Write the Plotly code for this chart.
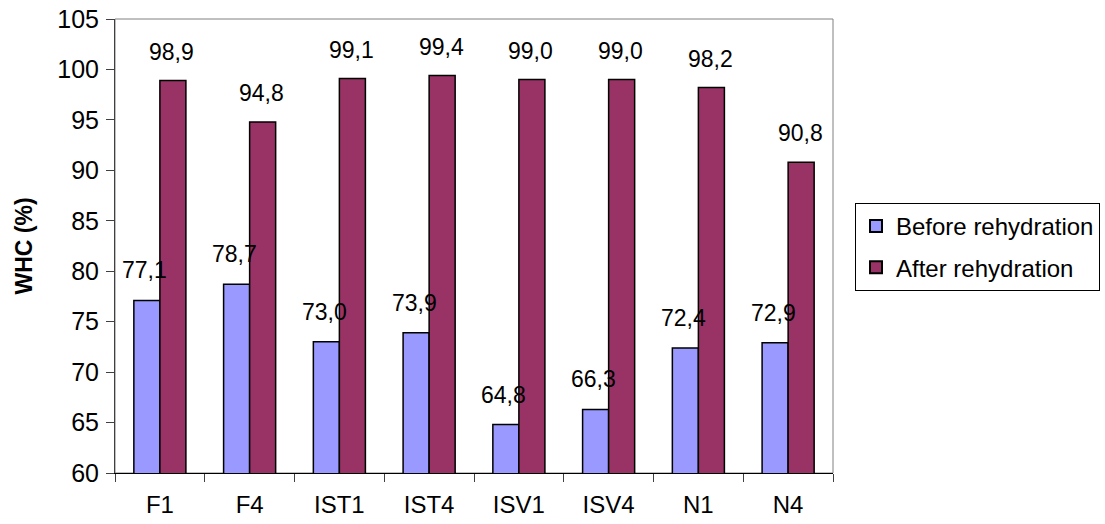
import plotly.graph_objects as go

categories = ["F1", "F4", "IST1", "IST4", "ISV1", "ISV4", "N1", "N4"]
before_rehydration = [77.1, 78.7, 73.0, 73.9, 64.8, 66.3, 72.4, 72.9]
after_rehydration = [98.9, 94.8, 99.1, 99.4, 99.0, 99.0, 98.2, 90.8]
y_ticks = [60, 65, 70, 75, 80, 85, 90, 95, 100, 105]

FONT = "Liberation Sans, Arial, sans-serif"
BLUE = "#9999FF"
PLUM = "#993366"

fig = go.Figure()
fig.add_trace(go.Bar(
    x=categories, y=before_rehydration, name="Before rehydration",
    legendgroup="before",
    marker=dict(color=BLUE, line=dict(color="black", width=1.5)),
))
fig.add_trace(go.Bar(
    x=categories, y=after_rehydration, name="After rehydration",
    legendgroup="after",
    marker=dict(color=PLUM, line=dict(color="black", width=1.5)),
))


def fmt(v):
    return f"{v:.1f}".replace(".", ",")


label_font = dict(family=FONT, size=23, color="black")
annotations = []
for cat, v in zip(categories, before_rehydration):
    annotations.append(dict(x=cat, y=v, text=fmt(v), showarrow=False,
                            xanchor="center", yanchor="bottom",
                            xshift=-15, yshift=15, font=label_font))
for cat, v in zip(categories, after_rehydration):
    annotations.append(dict(x=cat, y=v, text=fmt(v), showarrow=False,
                            xanchor="center", yanchor="bottom",
                            xshift=12, yshift=14, font=label_font))

fig.update_layout(
    width=1105, height=524,
    margin=dict(l=115, r=272, t=19, b=51),
    paper_bgcolor="white", plot_bgcolor="white",
    barmode="group", bargap=0.42, bargroupgap=0,
    font=dict(family=FONT, size=24, color="black"),
    annotations=annotations,
    legend=dict(
        xref="container", yref="container",
        x=855 / 1105, xanchor="left", y=1 - 203 / 524, yanchor="top",
        bordercolor="black", borderwidth=1,
        font=dict(family=FONT, size=24, color="black"),
        itemsizing="constant", tracegroupgap=7, itemwidth=30,
    ),
    shapes=[dict(type="rect", xref="x domain", yref="y domain",
                 x0=0, x1=1, y0=0, y1=1,
                 line=dict(color="#808080", width=1), layer="below")],
)

fig.update_xaxes(
    automargin=False,
    showline=True, linecolor="black", linewidth=1,
    ticks="outside", ticklen=8, tickcolor="#404040",
    tickson="boundaries", showgrid=False,
    ticklabelstandoff=10,
    tickfont=dict(family=FONT, size=24, color="black"),
)
fig.update_yaxes(
    automargin=False,
    range=[60, 105], tickvals=y_ticks,
    showline=True, linecolor="#404040", linewidth=1,
    ticks="outside", ticklen=8, tickcolor="#404040",
    showgrid=False, zeroline=False,
    ticklabelstandoff=2,
    tickfont=dict(family=FONT, size=25, color="black"),
    title=dict(text="<b>WHC (%)</b>", font=dict(family=FONT, size=23, color="black"),
               standoff=18),
)

fig.write_html("out.html")
